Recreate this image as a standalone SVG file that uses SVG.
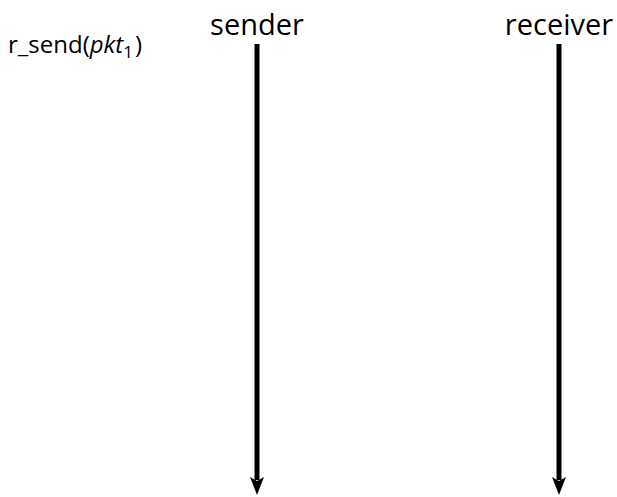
<svg xmlns="http://www.w3.org/2000/svg" width="617" height="497" viewBox="0 0 617 497">
<style>
.lbl{font-family:"Open Sans","Noto Sans",sans-serif;fill:#000}
.big{font-size:29px;text-anchor:middle}
.small{font-size:24px}
.life{stroke:#000;stroke-width:5;fill:none}
</style>
<defs>
<marker id="ah" markerUnits="userSpaceOnUse" markerWidth="18" markerHeight="14" refX="3" refY="7" orient="auto" viewBox="0 0 18 14">
<path d="M0,0 L4,7 L0,14 L18,7 Z" fill="#000"/>
</marker>
</defs>
<rect width="617" height="497" fill="#fff"/>
<g id="sender">
<text class="lbl big" x="257" y="35">sender</text>
</g>
<g id="receiver">
<text class="lbl big" x="559" y="35">receiver</text>
</g>
<g id="event">
<text class="lbl small" x="8" y="53">r_send(<tspan font-style="italic">pkt</tspan><tspan font-size="17" dy="5">1</tspan><tspan dy="-5" dx="2">)</tspan></text>
</g>
<g id="connectors">
<line class="life" x1="257" y1="44" x2="257" y2="480" marker-end="url(#ah)"/>
<line class="life" x1="559" y1="44" x2="559" y2="480" marker-end="url(#ah)"/>
</g>
</svg>
